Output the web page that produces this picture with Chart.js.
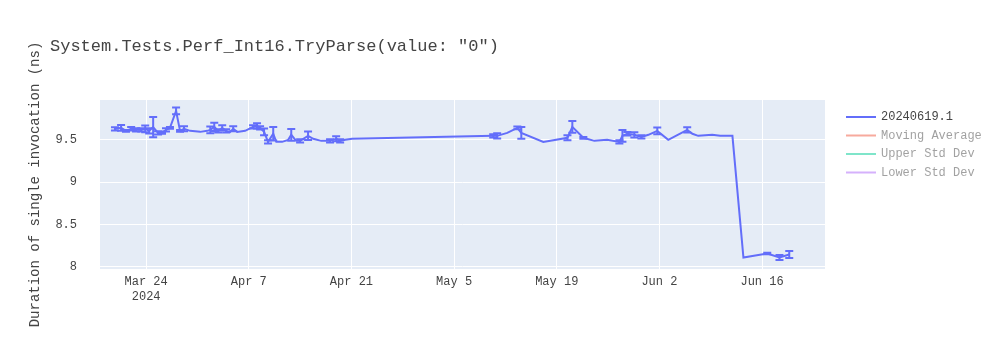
<!DOCTYPE html>
<html>
<head>
<meta charset="utf-8">
<script src="https://cdn.jsdelivr.net/npm/chart.js@4.4.1/dist/chart.umd.min.js"></script>
<style>
  body { margin: 0; background: #fff; }
  #wrap { width: 1000px; height: 350px; position: relative; }
</style>
</head>
<body>
<div id="wrap"><canvas id="perfChart"></canvas></div>
<script>
// benchmark runs: timestamp (UTC), mean duration and std error (ns)
const runDates = [
    '2024-03-19T18:00', '2024-03-20T14:00', '2024-03-21T06:00', '2024-03-21T23:00', '2024-03-22T15:00',
    '2024-03-23T08:00', '2024-03-23T21:00', '2024-03-24T10:00', '2024-03-24T23:00', '2024-03-25T15:00',
    '2024-03-26T04:00', '2024-03-26T17:00', '2024-03-27T06:00', '2024-03-28T02:00', '2024-03-28T15:00',
    '2024-03-29T04:00', '2024-03-30T00:00', '2024-03-31T09:00', '2024-04-01T08:00', '2024-04-01T18:00',
    '2024-04-02T07:00', '2024-04-02T20:00', '2024-04-03T09:00', '2024-04-03T22:00', '2024-04-04T11:00',
    '2024-04-04T21:00', '2024-04-05T10:00', '2024-04-06T12:00', '2024-04-07T14:00', '2024-04-08T03:00',
    '2024-04-08T13:00', '2024-04-09T02:00', '2024-04-09T15:00', '2024-04-10T08:00', '2024-04-10T18:00',
    '2024-04-11T13:00', '2024-04-12T09:00', '2024-04-12T19:00', '2024-04-13T11:00', '2024-04-14T00:00',
    '2024-04-15T02:00', '2024-04-15T19:00', '2024-04-16T21:00', '2024-04-18T02:00', '2024-04-18T22:00',
    '2024-04-19T11:00', '2024-04-20T04:00', '2024-04-21T02:00', '2024-05-10T08:00', '2024-05-10T21:00',
    '2024-05-12T06:00', '2024-05-13T15:00', '2024-05-14T04:00', '2024-05-17T04:00', '2024-05-20T11:00',
    '2024-05-21T03:00', '2024-05-22T15:00', '2024-05-24T03:00', '2024-05-25T21:00', '2024-05-27T13:00',
    '2024-05-27T23:00', '2024-05-28T15:00', '2024-05-29T14:00', '2024-05-30T13:00', '2024-05-31T12:00',
    '2024-06-01T17:00', '2024-06-03T05:00', '2024-06-05T19:00', '2024-06-06T12:00', '2024-06-07T07:00',
    '2024-06-09T05:00', '2024-06-10T07:00', '2024-06-11T23:00', '2024-06-13T11:00', '2024-06-15T02:00',
    '2024-06-16T17:00', '2024-06-18T09:00', '2024-06-19T17:00'
];
const durations = [
    9.629, 9.641, 9.606, 9.630, 9.618,
    9.618, 9.630, 9.606, 9.650, 9.582,
    9.582, 9.618, 9.641, 9.841, 9.606,
    9.630, 9.606, 9.594, 9.606, 9.618,
    9.653, 9.606, 9.641, 9.606, 9.594,
    9.630, 9.594, 9.606, 9.653, 9.665,
    9.641, 9.594, 9.476, 9.571, 9.476,
    9.476, 9.500, 9.559, 9.488, 9.488,
    9.547, 9.512, 9.488, 9.488, 9.512,
    9.488, 9.500, 9.512, 9.547, 9.547,
    9.582, 9.641, 9.582, 9.476, 9.524,
    9.653, 9.524, 9.488, 9.500, 9.476,
    9.547, 9.571, 9.559, 9.535, 9.559,
    9.606, 9.500, 9.618, 9.571, 9.547,
    9.559, 9.547, 9.547, 8.112, 8.135,
    8.159, 8.112, 8.147
];
const stdErrors = [
    0.02, 0.035, 0.01, 0.02, 0.02,
    0.02, 0.04, 0.03, 0.12, 0.02,
    0.01, 0.02, 0.01, 0.04, 0.01,
    0.03, 0, 0, 0, 0.04,
    0.05, 0.02, 0.03, 0.02, 0,
    0.03, 0, 0, 0.02, 0.03,
    0.02, 0.04, 0.02, 0.08, 0,
    0, 0, 0.07, 0, 0.02,
    0.05, 0, 0, 0.02, 0.03,
    0.02, 0, 0, 0.02, 0.03,
    0, 0.015, 0.07, 0, 0.03,
    0.07, 0.01, 0, 0, 0.02,
    0.07, 0.02, 0.03, 0.02, 0,
    0.04, 0, 0.03, 0, 0,
    0, 0, 0, 0, 0,
    0.01, 0.03, 0.04
];

const xTickDates = ['2024-03-24', '2024-04-07', '2024-04-21', '2024-05-05', '2024-05-19', '2024-06-02', '2024-06-16'];
const yTickValues = [8, 8.5, 9, 9.5];
const seriesNames = ['20240619.1', 'Moving Average', 'Upper Std Dev', 'Lower Std Dev'];
const seriesColors = ['#636efa', 'rgba(239,85,59,0.5)', 'rgba(0,204,150,0.5)', 'rgba(171,99,250,0.5)'];

const chartTitle = 'System.Tests.Perf_Int16.TryParse(value: "0")';
const yTitle = 'Duration of single invocation (ns)';
const monthNames = ['Jan', 'Feb', 'Mar', 'Apr', 'May', 'Jun', 'Jul', 'Aug', 'Sep', 'Oct', 'Nov', 'Dec'];
const MONO = '"Liberation Mono", "DejaVu Sans Mono", monospace';
const TEXT = '#444';

function toTime(s) {
    return Date.parse(s.length > 10 ? s + ':00Z' : s + 'T00:00:00Z');
}

const points = runDates.map((d, i) => ({ x: toTime(d), y: durations[i] }));

// plot background
const plotBg = {
    id: 'plotBg',
    beforeDraw(chart) {
        const a = chart.chartArea, ctx = chart.ctx;
        ctx.save();
        ctx.fillStyle = '#e5ecf6';
        ctx.fillRect(a.left, a.top, a.right - a.left, a.bottom - a.top);
        ctx.restore();
    }
};

// vertical error bars with caps for the first series
const errorBars = {
    id: 'errorBars',
    afterDatasetsDraw(chart) {
        const xs = chart.scales.x, ys = chart.scales.y, ctx = chart.ctx;
        ctx.save();
        ctx.strokeStyle = seriesColors[0];
        ctx.lineWidth = 2;
        for (let i = 0; i < points.length; i++) {
            const e = stdErrors[i];
            if (!e) continue;
            const px = xs.getPixelForValue(points[i].x);
            const top = ys.getPixelForValue(points[i].y + e);
            const bot = ys.getPixelForValue(points[i].y - e);
            ctx.beginPath();
            ctx.moveTo(px, top); ctx.lineTo(px, bot);
            ctx.moveTo(px - 4, top); ctx.lineTo(px + 4, top);
            ctx.moveTo(px - 4, bot); ctx.lineTo(px + 4, bot);
            ctx.stroke();
        }
        ctx.restore();
    }
};

// title and legend drawn by hand
const decorations = {
    id: 'decorations',
    afterDraw(chart) {
        const ctx = chart.ctx;
        ctx.save();
        ctx.fillStyle = TEXT;
        ctx.font = '17px ' + MONO;
        ctx.textBaseline = 'middle';
        ctx.fillText(chartTitle, 50, 46);

        ctx.font = '12px ' + MONO;
        chart.data.datasets.forEach((ds, i) => {
            const y = 117 + i * 18.5;
            ctx.strokeStyle = ds.borderColor;
            ctx.lineWidth = 2;
            ctx.beginPath();
            ctx.moveTo(846, y); ctx.lineTo(876, y);
            ctx.stroke();
            ctx.fillStyle = ds.hidden ? 'rgba(68,68,68,0.5)' : TEXT;
            ctx.fillText(ds.label, 881, y);
        });
        ctx.restore();
    }
};

const datasets = seriesNames.map((name, i) => ({
    label: name,
    data: i === 0 ? points : [],
    borderColor: seriesColors[i],
    borderWidth: 2,
    pointRadius: 0,
    tension: 0,
    hidden: i !== 0
}));

new Chart(document.getElementById('perfChart'), {
    type: 'line',
    data: { datasets: datasets },
    plugins: [plotBg, errorBars, decorations],
    options: {
        responsive: true,
        maintainAspectRatio: false,
        animation: false,
        layout: { padding: { left: 27, top: 100, right: 175, bottom: 0 } },
        plugins: {
            legend: { display: false },
            tooltip: { enabled: false }
        },
        scales: {
            x: {
                type: 'linear',
                min: toTime('2024-03-17T17:00'),
                max: toTime('2024-06-24T14:00'),
                afterBuildTicks(scale) {
                    scale.ticks = xTickDates.map(d => ({ value: toTime(d) }));
                },
                afterFit(scale) { scale.height = 81; },
                grid: { color: '#fff', lineWidth: 1, drawTicks: false },
                border: { display: false },
                ticks: {
                    padding: 6,
                    maxRotation: 0,
                    autoSkip: false,
                    color: TEXT,
                    font: { family: MONO, size: 12 },
                    callback(value, index) {
                        const d = new Date(value);
                        const label = monthNames[d.getUTCMonth()] + ' ' + d.getUTCDate();
                        return index === 0 ? [label, String(d.getUTCFullYear())] : label;
                    }
                }
            },
            y: {
                min: 7.976,
                max: 9.97,
                afterBuildTicks(scale) {
                    scale.ticks = yTickValues.map(v => ({ value: v }));
                },
                afterFit(scale) { scale.width = 73; },
                grid: { color: '#fff', lineWidth: 1, drawTicks: false },
                border: { display: false },
                title: {
                    display: true,
                    text: yTitle,
                    color: TEXT,
                    padding: 0,
                    font: { family: MONO, size: 14 }
                },
                ticks: {
                    padding: 23,
                    color: TEXT,
                    font: { family: MONO, size: 12 },
                    callback(value) { return String(value); }
                }
            }
        }
    }
});
</script>
</body>
</html>
